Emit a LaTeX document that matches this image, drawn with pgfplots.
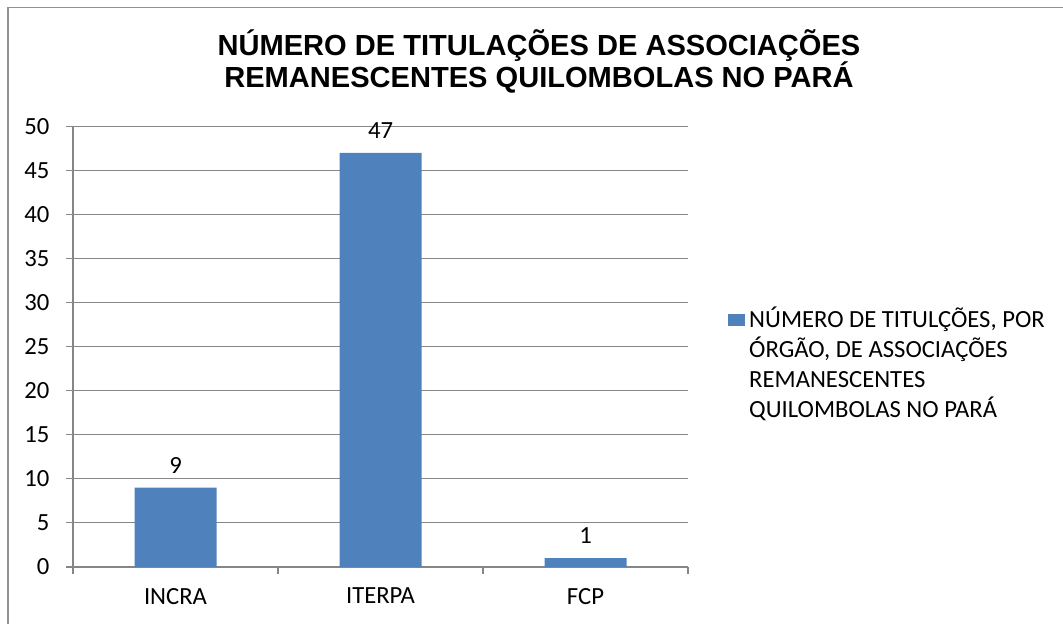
\documentclass[border=0pt]{standalone}
\usepackage{pgfplots}
\pgfplotsset{compat=1.18}
\usepackage{fontspec}
\setmainfont{Carlito}
\newfontfamily\titlefont{Liberation Sans}
\definecolor{barblue}{HTML}{4F81BD}
\definecolor{gridgray}{HTML}{868686}
\begin{document}
\begin{tikzpicture}[x=0.75pt,y=0.75pt]
\useasboundingbox (0,0) rectangle (1063,624);
\draw[color=gridgray!90, line width=1.1pt] (8,0) -- (8,616.5) -- (1063,616.5);
\node[anchor=base, inner sep=0pt] at (539,568) {\titlefont\bfseries\fontsize{21.8}{26}\selectfont NÚMERO DE TITULAÇÕES DE ASSOCIAÇÕES};
\node[anchor=base, inner sep=0pt] at (539,536) {\titlefont\bfseries\fontsize{21.8}{26}\selectfont REMANESCENTES QUILOMBOLAS NO PARÁ};
\begin{axis}[
  at={(54.75pt,42.75pt)}, anchor=south west,
  scale only axis,
  width=461.25pt, height=330.4pt,
  xmin=0, xmax=3, ymin=0, ymax=50,
  axis lines*=left,
  axis line style={gridgray, line width=0.8pt},
  ytick={0,5,...,50},
  xtick={0.5,1.5,2.5},
  xticklabels={INCRA,ITERPA,FCP},
  minor xtick={0,1,2,3},
  x tick style={draw=none},
  minor x tick style={draw=gridgray, line width=0.8pt},
  y tick style={draw=gridgray, line width=0.8pt},
  minor tick length=5.25pt,
  major tick length=5.25pt,
  tick align=outside,
  ymajorgrids,
  grid style={gridgray, line width=0.8pt},
  /pgf/number format/assume math mode=true,
  tick label style={font=\fontsize{18.5}{22}\selectfont, text=black},
  yticklabel style={xshift=-9pt},
  xticklabel style={yshift=-7pt},
  ybar, bar width=0.4,
  nodes near coords,
  every node near coord/.append style={font=\fontsize{18.5}{22}\selectfont, yshift=7.4pt},
  legend style={draw=none, fill=none, at={(1.065,0.590)}, anchor=north west, inner sep=0pt,
    nodes={inner sep=0pt, align=left, font=\fontsize{18.5}{22.5}\selectfont}},
  legend cell align=left,
  legend image code/.code={\fill[#1] (0pt,28pt) rectangle (12.75pt,37pt);},
]
\addplot[fill=barblue, draw=none] coordinates {(0.5,9) (1.5,47) (2.5,1)};
\addlegendentry{\hspace{3pt}NÚMERO DE TITULÇÕES, POR\\\hspace{3pt}ÓRGÃO, DE ASSOCIAÇÕES\\\hspace{3pt}REMANESCENTES\\\hspace{3pt}QUILOMBOLAS NO PARÁ}
\end{axis}
\end{tikzpicture}
\end{document}
